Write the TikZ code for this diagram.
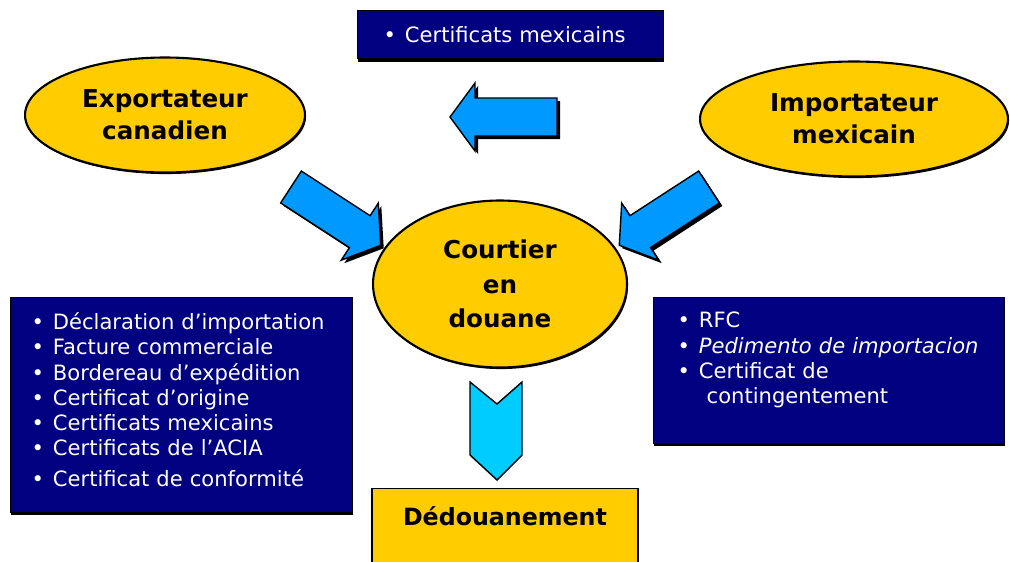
\documentclass[tikz,border=0pt]{standalone}
\usepackage{fontspec}
\setmainfont{DejaVu Sans}
\usetikzlibrary{shapes.geometric,shadows}

\definecolor{navy}{RGB}{0,0,128}
\definecolor{gold}{RGB}{255,204,0}
\definecolor{skyblue}{RGB}{0,153,255}
\definecolor{lightcyan}{RGB}{0,204,255}

\begin{document}
\begin{tikzpicture}[
    x=0.02cm, y=-0.02cm,
    oval/.style={ellipse, draw=black, line width=1.2pt, fill=gold, inner sep=0pt, align=center,
        font=\fontsize{14}{18}\selectfont\bfseries,
        drop shadow={shadow xshift=0.6pt, shadow yshift=-0.9pt, fill=black, opacity=1}},
    navybox/.style={rectangle, draw=black, line width=0.8pt, fill=navy, text=white, anchor=north west, align=left,
        font=\fontsize{12}{14.4}\selectfont,
        drop shadow={shadow xshift=0.4pt, shadow yshift=-1.6pt, fill=black, opacity=1}},
    goldbox/.style={rectangle, draw=black, line width=0.8pt, fill=gold, anchor=north, inner ysep=0pt,
        font=\fontsize{13.5}{16}\selectfont\bfseries},
    blockarrow/.style={draw=black, line width=0.8pt, fill=skyblue},
    chevron/.style={draw=black, line width=0.8pt, fill=lightcyan}
]
\useasboundingbox (0,0) rectangle (1010,561);

% parties
\node[oval, minimum width=5.6cm, minimum height=2.3cm] (exporter) at (165,115) {Exportateur\\canadien};
\node[oval, minimum width=6.16cm, minimum height=2.3cm] (importer) at (854,119) {Importateur\\mexicain};
\node[oval, minimum width=5.08cm, minimum height=3.34cm, font=\fontsize{14}{19.5}\selectfont\bfseries] (broker) at (500,284) {Courtier\\en\\douane};

% documents
\node[navybox, inner xsep=0.52cm, text width=5.08cm, minimum height=0.96cm] (certtop) at (357,10)
    {\textbullet\hspace{5pt}Certificats mexicains};
\node[navybox, inner xsep=0.42cm, text width=6.0cm, minimum height=4.3cm] (docsleft) at (10,297)
    {\textbullet\hspace{5pt}Déclaration d’importation\\
     \textbullet\hspace{5pt}Facture commerciale\\
     \textbullet\hspace{5pt}Bordereau d’expédition\\
     \textbullet\hspace{5pt}Certificat d’origine\\
     \textbullet\hspace{5pt}Certificats mexicains\\
     \textbullet\hspace{5pt}Certificats de l’ACIA\\[3pt]
     \textbullet\hspace{5pt}Certificat de conformité\\[-8pt]
     \mbox{}};
\node[navybox, inner xsep=0.48cm, text width=6.06cm, minimum height=2.92cm] (docsright) at (653,297)
    {\textbullet\hspace{5pt}RFC\\
     \textbullet\hspace{5pt}\textit{Pedimento de importacion}\\
     \textbullet\hspace{5pt}Certificat de\\
     \hspace*{16.5pt}contingentement\\
     \mbox{}};

% result
\node[goldbox, minimum width=5.32cm, text height=21pt, text depth=28.5pt] (clearance) at (505,488) {Dédouanement};

% block arrows (tail x / tail y / angle)
\foreach \ax/\ay/\ang in {557/117/180, 291/187/-33, 709/187/-147} {
    \fill[black, shift={(\ax+3,\ay+3)}, rotate=\ang]
        (0,-19) -- (82,-19) -- (82,-34) -- (107,0) -- (82,34) -- (82,19) -- (0,19) -- cycle;
    \draw[blockarrow, shift={(\ax,\ay)}, rotate=\ang]
        (0,-19) -- (82,-19) -- (82,-34) -- (107,0) -- (82,34) -- (82,19) -- (0,19) -- cycle;
}

\draw[chevron] (470,382) -- (497,404) -- (522,382) -- (522,455) -- (497,480) -- (470,455) -- cycle;

\end{tikzpicture}
\end{document}
